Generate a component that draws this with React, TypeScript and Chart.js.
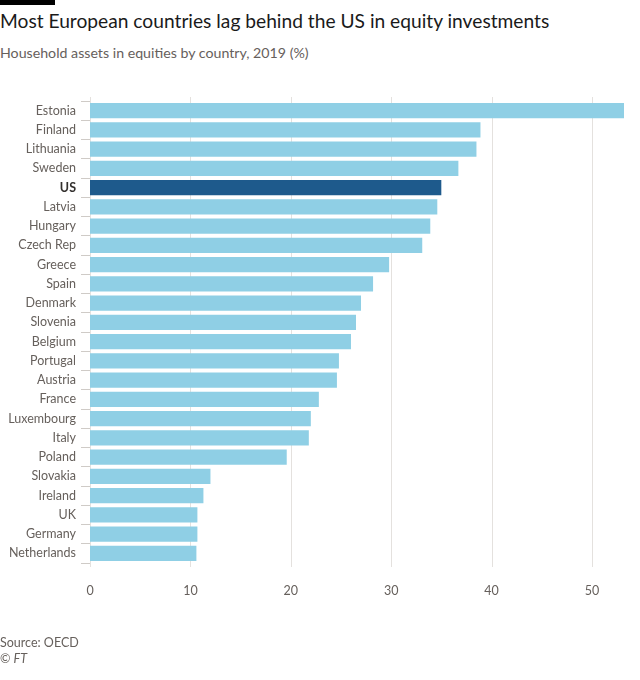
import React, { useEffect, useRef } from "react";
import { Chart, registerables } from "chart.js";

Chart.register(...registerables);

const countries = [
  "Estonia", "Finland", "Lithuania", "Sweden", "US", "Latvia", "Hungary", "Czech Rep",
  "Greece", "Spain", "Denmark", "Slovenia", "Belgium", "Portugal", "Austria", "France",
  "Luxembourg", "Italy", "Poland", "Slovakia", "Ireland", "UK", "Germany", "Netherlands",
];
const equityShare = [
  53.2, 38.9, 38.5, 36.7, 35.0, 34.6, 33.9, 33.1,
  29.8, 28.2, 27.0, 26.5, 26.0, 24.8, 24.6, 22.8,
  22.0, 21.8, 19.6, 12.0, 11.3, 10.7, 10.7, 10.6,
];
const xTicks = [0, 10, 20, 30, 40, 50];
const highlight = "US";

const FONT = "Lato, 'Open Sans', sans-serif";
const LIGHT = "#8fcfe5";
const DARK = "#1e5a8c";

const gridPlugin = {
  id: "extGrid",
  beforeDatasetsDraw(chart: any) {
    const { ctx, chartArea, scales } = chart;
    ctx.save();
    ctx.strokeStyle = "#e4e1de";
    ctx.lineWidth = 1;
    xTicks.forEach((t) => {
      const x = Math.round(scales.x.getPixelForValue(t)) + 0.5;
      ctx.beginPath();
      ctx.moveTo(x, chartArea.top - 4);
      ctx.lineTo(x, chartArea.bottom + 4);
      ctx.stroke();
    });
    ctx.restore();
  },
};

export default function App() {
  const ref = useRef<HTMLCanvasElement | null>(null);
  useEffect(() => {
    if (!ref.current) return;
    const chart = new Chart(ref.current, {
      type: "bar",
      data: {
        labels: countries,
        datasets: [
          {
            data: equityShare,
            backgroundColor: countries.map((c) => (c === highlight ? DARK : LIGHT)),
            categoryPercentage: 0.78,
            barPercentage: 1,
          },
        ],
      },
      plugins: [gridPlugin],
      options: {
        indexAxis: "y",
        animation: false,
        responsive: false,
        devicePixelRatio: 1,
        layout: { padding: { top: 101, right: 16, left: 0, bottom: 0 } },
        plugins: { legend: { display: false }, tooltip: { enabled: false } },
        scales: {
          x: {
            min: 0,
            max: 53.2,
            border: { display: false },
            grid: { display: false, drawTicks: false },
            afterBuildTicks: (s: any) => {
              s.ticks = xTicks.map((v) => ({ value: v }));
            },
            afterFit: (s: any) => {
              s.height = 117;
            },
            ticks: {
              padding: 20,
              color: "#66605c",
              font: { family: FONT, size: 12.5 },
            },
          },
          y: {
            border: { display: false },
            grid: {
              drawOnChartArea: false,
              drawTicks: true,
              tickLength: 9,
              color: "#cfcbc7",
            },
            afterFit: (s: any) => {
              s.width = 90;
            },
            ticks: {
              padding: 5,
              color: (c: any) => (countries[c.index] === highlight ? "#33302e" : "#66605c"),
              font: (c: any) => ({
                family: FONT,
                size: 12.5,
                weight: countries[c.index] === highlight ? "bold" : "normal",
              }),
            },
          },
        },
      },
    });
    return () => chart.destroy();
  }, []);

  return (
    <div style={{ position: "absolute", left: 0, top: 0, width: 640, height: 680, background: "#fff", fontFamily: FONT }}>
      <div style={{ position: "absolute", left: 0, top: 0, width: 55, height: 5, background: "#000" }} />
      <div style={{ position: "absolute", left: 0, top: 9, fontSize: 19.2, color: "#1a1a1a", whiteSpace: "nowrap" }}>
        Most European countries lag behind the US in equity investments
      </div>
      <div style={{ position: "absolute", left: 0, top: 44, fontSize: 14.2, color: "#66605c", whiteSpace: "nowrap" }}>
        Household assets in equities by country, 2019 (%)
      </div>
      <canvas ref={ref} width={640} height={680} style={{ position: "absolute", left: 0, top: 0, width: 640, height: 680 }} />
      <div style={{ position: "absolute", left: 0, top: 635, fontSize: 12.5, color: "#66605c", whiteSpace: "nowrap" }}>
        Source: OECD
      </div>
      <div style={{ position: "absolute", left: 0, top: 651, fontSize: 12.5, color: "#66605c", whiteSpace: "nowrap" }}>
        © <i>FT</i>
      </div>
    </div>
  );
}
